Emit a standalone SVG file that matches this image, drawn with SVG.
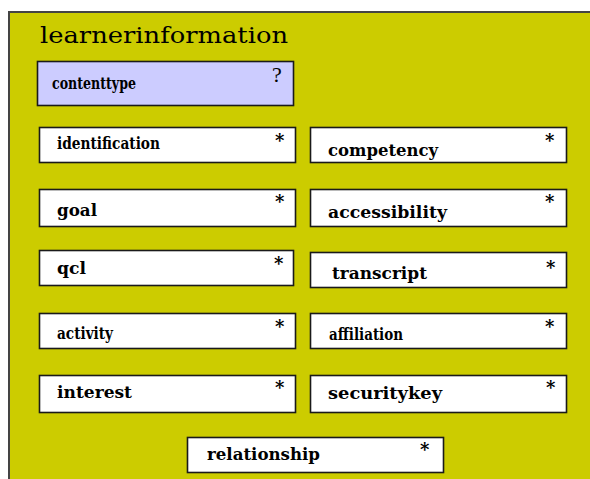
<svg xmlns="http://www.w3.org/2000/svg" width="590" height="479" viewBox="0 0 590 479">
<style>
.bg{fill:#cccc00;stroke:#444;stroke-width:2}
.box{fill:#ffffff;stroke:#1a1a1a;stroke-width:1.6}
.opt{fill:#ccccff;stroke:#1a1a1a;stroke-width:1.6}
.lbl{font-family:"DejaVu Serif","Liberation Serif",serif;font-weight:bold;font-size:16px;fill:#000}
.mult{font-family:"DejaVu Serif","Liberation Serif",serif;font-weight:bold;font-size:18px;fill:#000}
.q{font-family:"Liberation Serif","DejaVu Serif",serif;font-size:22px;fill:#000}
.title{font-family:"DejaVu Serif","Liberation Serif",serif;font-size:22px;fill:#000}
</style>
<rect x="0" y="0" width="590" height="479" fill="#ffffff"/>
<g id="learnerinformation">
<rect class="bg" x="9" y="12" width="600" height="490"/>
<text class="title" x="40" y="43" textLength="248" lengthAdjust="spacingAndGlyphs">learnerinformation</text>
</g>
<g id="contenttype">
<rect class="opt" x="37.5" y="61.5" width="256" height="44"/>
<text class="lbl" x="52" y="89" textLength="84" lengthAdjust="spacingAndGlyphs">contenttype</text>
<text class="q" x="272" y="82">?</text>
</g>
<g id="identification">
<rect class="box" x="39.5" y="127.5" width="256" height="35"/>
<text class="lbl" x="57" y="149" textLength="103" lengthAdjust="spacingAndGlyphs">identification</text>
<text class="mult" x="275" y="147">*</text>
</g>
<g id="competency">
<rect class="box" x="310.5" y="127.5" width="256" height="35"/>
<text class="lbl" x="328" y="156" textLength="110" lengthAdjust="spacingAndGlyphs">competency</text>
<text class="mult" x="545" y="147">*</text>
</g>
<g id="goal">
<rect class="box" x="39.5" y="189.5" width="256" height="37"/>
<text class="lbl" x="57" y="216" textLength="40" lengthAdjust="spacingAndGlyphs">goal</text>
<text class="mult" x="275" y="208">*</text>
</g>
<g id="accessibility">
<rect class="box" x="310.5" y="189.5" width="256" height="37"/>
<text class="lbl" x="328" y="218" textLength="119" lengthAdjust="spacingAndGlyphs">accessibility</text>
<text class="mult" x="545" y="208">*</text>
</g>
<g id="qcl">
<rect class="box" x="39.5" y="250.5" width="254" height="35"/>
<text class="lbl" x="57" y="274" textLength="29" lengthAdjust="spacingAndGlyphs">qcl</text>
<text class="mult" x="274" y="270">*</text>
</g>
<g id="transcript">
<rect class="box" x="310.5" y="252.5" width="256" height="35"/>
<text class="lbl" x="332" y="279" textLength="95" lengthAdjust="spacingAndGlyphs">transcript</text>
<text class="mult" x="546" y="274">*</text>
</g>
<g id="activity">
<rect class="box" x="39.5" y="313.5" width="256" height="35"/>
<text class="lbl" x="57" y="339" textLength="56" lengthAdjust="spacingAndGlyphs">activity</text>
<text class="mult" x="275" y="333">*</text>
</g>
<g id="affiliation">
<rect class="box" x="310.5" y="313.5" width="256" height="35"/>
<text class="lbl" x="329" y="340" textLength="74" lengthAdjust="spacingAndGlyphs">affiliation</text>
<text class="mult" x="545" y="333">*</text>
</g>
<g id="interest">
<rect class="box" x="39.5" y="375.5" width="256" height="37"/>
<text class="lbl" x="57" y="398" textLength="75" lengthAdjust="spacingAndGlyphs">interest</text>
<text class="mult" x="275" y="394">*</text>
</g>
<g id="securitykey">
<rect class="box" x="310.5" y="375.5" width="256" height="37"/>
<text class="lbl" x="328" y="399" textLength="114" lengthAdjust="spacingAndGlyphs">securitykey</text>
<text class="mult" x="546" y="394">*</text>
</g>
<g id="relationship">
<rect class="box" x="187.5" y="437.5" width="256" height="35"/>
<text class="lbl" x="207" y="460" textLength="113" lengthAdjust="spacingAndGlyphs">relationship</text>
<text class="mult" x="420" y="456">*</text>
</g>
<g id="connectors"></g>
</svg>
